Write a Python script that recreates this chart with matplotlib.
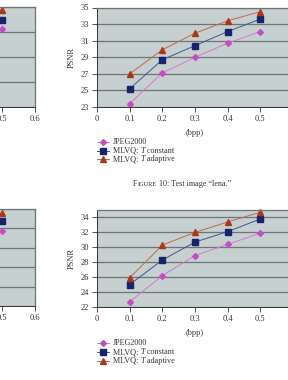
import numpy as np
import matplotlib
matplotlib.use("Agg")
import matplotlib.pyplot as plt
from matplotlib.lines import Line2D

plt.rcParams["font.family"] = ["Liberation Serif", "DejaVu Serif"]

# ----------------- DATA -----------------
bpp = [0.1, 0.2, 0.3, 0.4, 0.5]
xtick_labels = ["0", "0.1", "0.2", "0.3", "0.4", "0.5", "0.6"]
# legend labels split so that "T" can be set in italics
labels = [
    [("JPEG2000", "normal")],
    [("MLVQ: ", "normal"), ("T", "italic"), (" constant", "normal")],
    [("MLVQ: ", "normal"), ("T", "italic"), (" adaptive", "normal")],
]

# test image "lena" (top right)
lena_jpeg = [23.4, 27.1, 29.0, 30.7, 32.1]
lena_const = [25.2, 28.7, 30.4, 32.1, 33.6]
lena_adapt = [27.0, 29.9, 31.9, 33.4, 34.5]

# bottom right chart
img2_jpeg = [22.7, 26.2, 28.9, 30.4, 31.9]
img2_const = [25.0, 28.3, 30.7, 32.1, 33.8]
img2_adapt = [25.9, 30.3, 32.0, 33.4, 34.7]

# cut-off charts on the left (only the 0.5 end is visible)
left1_jpeg = [27.0, 30.0, 32.0, 33.2, 34.2]
left1_const = [28.5, 31.2, 33.0, 34.1, 35.0]
left1_adapt = [29.5, 32.0, 33.8, 34.9, 35.8]

left2_jpeg = [26.5, 29.5, 31.5, 32.7, 33.7]
left2_const = [28.0, 31.0, 32.8, 33.9, 34.8]
left2_adapt = [28.8, 31.8, 33.6, 34.7, 35.6]

# ----------------- STYLE -----------------
BG = "#c6d0d0"
GRID = "#6f7373"
TXT = "#333333"
styles = [
    dict(color="#d07ad0", marker="D", mfc="#c04fc0", mec="#c04fc0", ms=3.0),
    dict(color="#44568f", marker="s", mfc="#18236a", mec="#18236a", ms=3.8),
    dict(color="#bd6a52", marker="^", mfc="#a8381c", mec="#a8381c", ms=4.0),
]
FS = 6.0       # ticks and axis labels
FS_LEG = 5.9   # legend and caption

W, H = 288, 380
fig = plt.figure(figsize=(W / 100, H / 100), dpi=100)


def px_axes(left, top, right, bottom):
    return fig.add_axes([left / W, 1 - bottom / H, (right - left) / W, (bottom - top) / H])


def draw_chart(ax, series, ylim, yticks, side="right"):
    ax.set_facecolor(BG)
    for vals, st in zip(series, styles):
        ax.plot(bpp, vals, lw=0.7, clip_on=False, **st)
    ax.set_xlim(0, 0.6)
    ax.set_ylim(*ylim)
    ax.set_yticks(yticks)
    ax.set_xticks([0, 0.1, 0.2, 0.3, 0.4, 0.5, 0.6])
    if side == "right":
        # 0.6 falls outside the page crop
        ax.set_xticklabels(xtick_labels[:-1] + [""])
    else:
        # only the right end of the left charts is on the page
        ax.set_xticklabels([""] * 5 + xtick_labels[5:])
        ax.set_yticklabels([""] * len(list(yticks)))
    ax.yaxis.grid(True, color=GRID, lw=0.9)
    ax.set_axisbelow(True)
    for s in ["top", "right"]:
        ax.spines[s].set_color(GRID)
        ax.spines[s].set_linewidth(0.9)
    for s in ["left", "bottom"]:
        ax.spines[s].set_color(TXT)
        ax.spines[s].set_linewidth(0.7)
    ax.tick_params(direction="out", length=3.5, width=0.6, labelsize=FS,
                   colors=TXT, pad=2.5)
    if side == "right":
        ax.set_ylabel("PSNR", fontsize=FS, color=TXT, labelpad=3)
        ax.set_xlabel("(bpp)", fontsize=FS, color=TXT, labelpad=4)


# top right: lena
ax1 = px_axes(97, 7.5, 293, 107)
draw_chart(ax1, [lena_jpeg, lena_const, lena_adapt], (23, 35), range(23, 36, 2))

# bottom right
ax2 = px_axes(97, 210, 293, 307)
draw_chart(ax2, [img2_jpeg, img2_const, img2_adapt], (22, 35), range(22, 35, 2))

# left cut-off charts
ax3 = px_axes(-161, 7, 35, 107)
draw_chart(ax3, [left1_jpeg, left1_const, left1_adapt], (28, 36), range(28, 37, 2), "left")
ax4 = px_axes(-161, 209, 35, 306)
draw_chart(ax4, [left2_jpeg, left2_const, left2_adapt], (26, 36), range(26, 37, 2), "left")

fig.canvas.draw()
r = fig.canvas.get_renderer()


def run_text(x_px, y_frac, pieces, va="baseline"):
    # write text pieces one after the other, measuring each
    x = x_px / W
    for txt, size, style in pieces:
        t = fig.text(x, y_frac, txt, fontsize=size, style=style, color=TXT,
                     ha="left", va=va)
        x += t.get_window_extent(renderer=r).width / W


# legends, drawn by hand to get the tight row spacing of the original
for row0 in (141.7, 343.0):
    for i, (lab, st) in enumerate(zip(labels, styles)):
        y_px = row0 + i * 8.8
        yy = 1 - y_px / H
        fig.add_artist(Line2D([97 / W, 109 / W], [yy, yy], lw=0.7, color=st["color"]))
        fig.add_artist(Line2D([103 / W], [yy], ls="none", marker=st["marker"],
                              mfc=st["mfc"], mec=st["mec"], ms=st["ms"]))
        run_text(113, 1 - (y_px + 2.2) / H, [(p, FS_LEG, s) for p, s in lab])

# caption with small caps "Figure"
run_text(133, 1 - 186.5 / H, [
    ("F", FS_LEG, "normal"),
    ("IGURE", FS_LEG * 0.78, "normal"),
    (" 10: Test image \u201clena.\u201d", FS_LEG, "normal"),
])

fig.savefig("out.png", dpi=100)
